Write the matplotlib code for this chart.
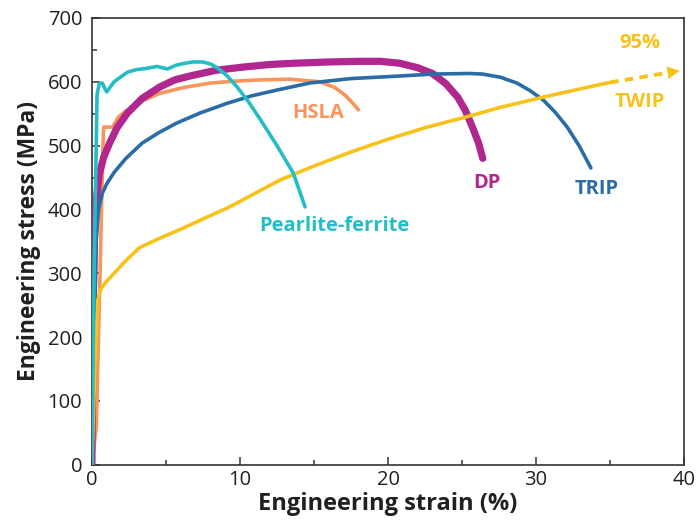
import matplotlib
matplotlib.use("Agg")
import matplotlib.pyplot as plt

plt.rcParams['font.family'] = ['Open Sans', 'DejaVu Sans']

# strain (%) / stress (MPa)
pf_x = [0.0, 0.15, 0.35, 0.5, 0.7, 1.0, 1.5, 2.4, 3.0, 3.7, 4.4, 5.1, 5.7, 6.3, 6.8, 7.5, 8.0, 8.4, 9.1, 9.8, 10.6, 11.4, 12.5, 13.6, 14.4]
pf_y = [0, 300, 580, 597, 598, 584, 600, 615, 619, 621, 624, 620, 626, 629, 631, 631, 628, 623, 610, 592, 568, 540, 500, 457, 404]

hsla_x = [0.0, 0.3, 0.55, 0.75, 0.8, 1.4, 1.8, 2.4, 3.4, 4.6, 6.2, 8.0, 9.7, 11.4, 13.4, 15.4, 16.4, 17.1, 17.6, 18.0]
hsla_y = [0, 60, 300, 500, 529, 529, 545, 556, 570, 582, 591, 598, 601, 603, 604, 600, 591, 579, 567, 556]

trip_x = [0.0, 0.15, 0.3, 0.45, 0.7, 1.0, 1.5, 2.3, 3.4, 4.5, 5.7, 7.3, 9.1, 10.8, 12.5, 14.7, 17.5, 20.8, 23.0, 25.5, 26.4, 27.6, 28.7, 29.6, 30.5, 31.3, 32.1, 32.9, 33.7]
trip_y = [0, 200, 355, 400, 425, 440, 458, 480, 504, 520, 535, 551, 566, 578, 587, 598, 605, 609, 612, 613, 612, 607, 598, 586, 571, 552, 529, 500, 465]

dp_x = [0.0, 0.05, 0.1, 0.15, 0.22, 0.32, 0.5, 0.8, 1.2, 1.7, 2.4, 3.4, 4.6, 5.6, 6.8, 8.4, 10.2, 12.0, 13.6, 16.0, 18.0, 19.5, 20.8, 22.0, 23.0, 23.9, 24.7, 25.2, 25.7, 26.1, 26.4]
dp_y = [0, 150, 270, 340, 385, 420, 455, 482, 504, 528, 551, 574, 592, 603, 610, 618, 623, 627, 629, 631, 632, 632, 629, 622, 613, 597, 576, 556, 529, 505, 480]

twip_x = [0.0, 0.2, 0.4, 0.6, 0.9, 1.5, 2.3, 3.2, 4.5, 5.9, 7.5, 9.3, 11.0, 12.7, 15.0, 17.5, 20.0, 22.5, 25.3, 27.6, 30.5, 33.0, 35.0]
twip_y = [0, 150, 258, 275, 285, 300, 320, 340, 354, 368, 385, 404, 425, 446, 468, 490, 510, 528, 545, 560, 576, 589, 599]
twip_ext_x = [35.0, 39.9]
twip_ext_y = [599, 618]

x_ticks = [0, 10, 20, 30, 40]
y_ticks = [0, 100, 200, 300, 400, 500, 600, 700]

c_pf = '#25BCC6'
c_hsla = '#F7955B'
c_trip = '#2A6CA5'
c_dp = '#B0278F'
c_twip = '#F9C21A'

fig = plt.figure(figsize=(6.96, 5.27), dpi=100)
ax = fig.add_axes([0.132, 0.118, 0.851, 0.848])

ax.plot(hsla_x, hsla_y, color=c_hsla, lw=2.6, solid_capstyle='round', zorder=2)
ax.plot(dp_x, dp_y, color=c_dp, lw=5.2, solid_capstyle='round', solid_joinstyle='round', zorder=3)
ax.plot(trip_x, trip_y, color=c_trip, lw=2.6, solid_capstyle='round', zorder=4)
ax.plot(twip_x, twip_y, color=c_twip, lw=2.6, solid_capstyle='round', zorder=5)
ax.plot(twip_ext_x[:1] + [twip_ext_x[0] + 0.85 * (twip_ext_x[1] - twip_ext_x[0])],
        twip_ext_y[:1] + [twip_ext_y[0] + 0.85 * (twip_ext_y[1] - twip_ext_y[0])],
        color=c_twip, lw=2.8, ls=(0, (2.2, 1.6)), zorder=5)
ax.annotate('', xy=(twip_ext_x[1], twip_ext_y[1]), xytext=(twip_ext_x[1] - 1.6, twip_ext_y[1] - 6),
            arrowprops=dict(arrowstyle='-|>,head_length=0.9,head_width=0.45', color=c_twip, lw=0), zorder=5)
ax.plot(pf_x, pf_y, color=c_pf, lw=2.6, solid_capstyle='round', zorder=6)

lbl = dict(fontsize=14.5, fontweight='bold', ha='center', va='center')
ax.text(37.0, 660, '95%', color=c_twip, **lbl)
ax.text(37.0, 568, 'TWIP', color=c_twip, **lbl)
ax.text(34.1, 432, 'TRIP', color=c_trip, **lbl)
ax.text(26.7, 442, 'DP', color=c_dp, **lbl)
ax.text(15.3, 551, 'HSLA', color=c_hsla, **lbl)
ax.text(16.4, 374, 'Pearlite-ferrite', color=c_pf, **lbl)

ax.set_xlim(0, 40)
ax.set_ylim(0, 700)
ax.set_xticks(x_ticks)
ax.set_yticks(y_ticks)
ax.set_xticks([5, 15, 25, 35], minor=True)
ax.set_yticks([50, 150, 250, 350, 450, 550, 650], minor=True)
ax.tick_params(which='both', direction='in', colors='#333333', labelcolor='#231F20', labelsize=14.5, width=1.1)
ax.tick_params(which='major', length=6)
ax.tick_params(which='minor', length=3.5)
ax.tick_params(axis='x', pad=4)
ax.tick_params(axis='y', pad=7)
for s in ax.spines.values():
    s.set_color('#333333')
    s.set_linewidth(1.2)

ax.set_xlabel('Engineering strain (%)', fontsize=17, fontweight='bold', color='#231F20', labelpad=1)
ax.set_ylabel('Engineering stress (MPa)', fontsize=16.5, fontweight='bold', color='#231F20', labelpad=5)

fig.savefig('out.png', dpi=100)
